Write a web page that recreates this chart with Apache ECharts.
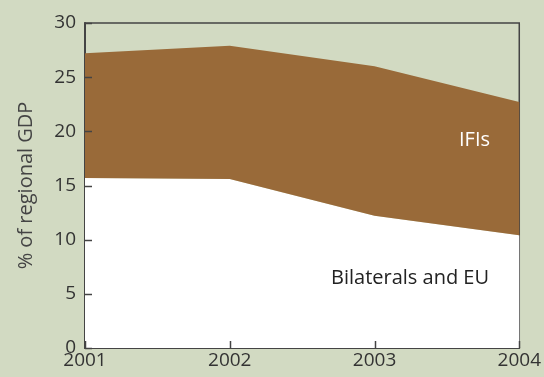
<!DOCTYPE html>
<html>
<head>
<meta charset="utf-8">
<script src="https://cdn.jsdelivr.net/npm/echarts@6/dist/echarts.min.js"></script>
<style>
  html, body { margin: 0; padding: 0; background: #d2dac2; }
  #chart { width: 544px; height: 377px; }
</style>
</head>
<body>
<div id="chart"></div>
<script>
var years = ['2001', '2002', '2003', '2004'];
var bilaterals = [15.7, 15.6, 12.2, 10.4];
var ifis = [11.5, 12.3, 13.8, 12.3];
var yTicks = [0, 5, 10, 15, 20, 25, 30];

var font = 'Open Sans';
var chart = echarts.init(document.getElementById('chart'));

chart.setOption({
  backgroundColor: '#d2dac2',
  animation: false,
  grid: {
    left: 85, right: 23, top: 23, bottom: 29,
    show: true,
    borderColor: '#444',
    borderWidth: 1.5,
    backgroundColor: 'transparent'
  },
  xAxis: {
    type: 'category',
    data: years,
    boundaryGap: false,
    axisLine: { lineStyle: { color: '#444', width: 2 } },
    axisTick: { show: false },
    axisLabel: { color: '#333', fontSize: 19, fontFamily: font, margin: 3 },
    splitLine: { show: false }
  },
  yAxis: {
    type: 'value',
    min: 0, max: 30, interval: 5,
    name: '% of regional GDP',
    nameLocation: 'middle',
    nameGap: 49,
    nameTextStyle: { color: '#444', fontSize: 20, fontFamily: font },
    axisLine: { show: true, lineStyle: { color: '#444', width: 2 } },
    axisTick: { show: false },
    axisLabel: {
      color: '#333', fontSize: 19, fontFamily: font, margin: 9,
      formatter: function (v) { return yTicks.indexOf(v) >= 0 ? String(v) : ''; }
    },
    splitLine: { show: false }
  },
  series: [{
    name: 'Bilaterals and EU',
    type: 'line',
    stack: 'aid',
    data: bilaterals,
    symbol: 'none',
    lineStyle: { width: 0 },
    areaStyle: { color: '#ffffff', opacity: 1 }
  }, {
    name: 'IFIs',
    type: 'line',
    stack: 'aid',
    data: ifis,
    symbol: 'none',
    lineStyle: { width: 0 },
    areaStyle: { color: '#996a39', opacity: 1 }
  }]
});

// inward ticks, placed through the grid's own scales
function toPx(i, v) {
  var p = chart.convertToPixel({ gridIndex: 0 }, [i, v]);
  return [Number(p[0]), Number(p[1])];
}
var origin = toPx(0, 0);
var tickLen = 7;
var tickLine = { stroke: '#444', lineWidth: 1.5 };
var graphics = [{
  id: 'ifis', type: 'text', x: 459, y: 140, z: 100,
  style: { text: 'IFIs', fill: '#ffffff', fontSize: 20, fontFamily: font, verticalAlign: 'middle' }
}, {
  id: 'bil', type: 'text', x: 331, y: 278, z: 100,
  style: { text: 'Bilaterals and EU', fill: '#222', fontSize: 20, fontFamily: font, verticalAlign: 'middle' }
}];
yTicks.forEach(function (v, i) {
  var py = Math.round(toPx(0, v)[1]) + 0.5;
  graphics.push({
    id: 'yt' + i, type: 'line', z: 100, silent: true,
    shape: { x1: origin[0], y1: py, x2: origin[0] + tickLen, y2: py },
    style: tickLine
  });
});
years.forEach(function (y, i) {
  var px = Math.round(toPx(i, 0)[0]) + 0.5;
  graphics.push({
    id: 'xt' + i, type: 'line', z: 100, silent: true,
    shape: { x1: px, y1: origin[1], x2: px, y2: origin[1] - tickLen },
    style: tickLine
  });
});
chart.setOption({ graphic: graphics });
</script>
</body>
</html>
